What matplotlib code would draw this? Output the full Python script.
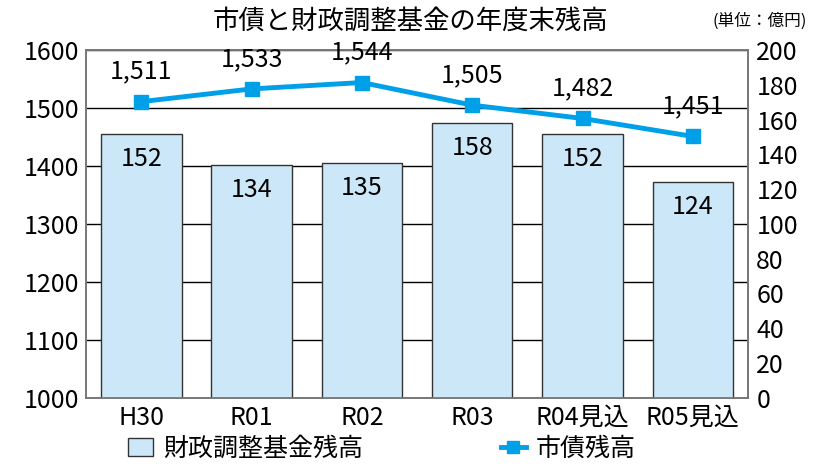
import matplotlib.pyplot as plt
import numpy as np
from matplotlib.patches import Patch
from matplotlib.lines import Line2D

plt.rcParams['font.family'] = ['Noto Sans CJK JP', 'DejaVu Sans']

categories = ["H30", "R01", "R02", "R03", "R04見込", "R05見込"]
fund = [152, 134, 135, 158, 152, 124]          # 財政調整基金残高 (right axis)
debt = [1511, 1533, 1544, 1505, 1482, 1451]    # 市債残高 (left axis)

line_color = "#00A0E9"
bar_color = "#CCE8F8"

fig = plt.figure(figsize=(8.13, 4.68), dpi=100)
ax = fig.add_axes([0.106, 0.150, 0.814, 0.743])
ax2 = ax.twinx()

x = np.arange(len(categories))

# bars on right axis
ax2.bar(x, fund, width=0.73, color=bar_color, edgecolor="#333333", linewidth=1.0, zorder=2)
for xi, v in zip(x, fund):
    ax2.annotate(str(v), (xi, v), xytext=(0, -32), textcoords="offset pixels",
                 ha="center", va="baseline", fontsize=18, zorder=3)
ax2.set_ylim(0, 200)
ax2.set_yticks(range(0, 201, 20))

# left axis + gridlines behind the bars
ax.set_ylim(1000, 1600)
ax.set_yticks(range(1000, 1601, 100))
ax.grid(axis="y", color="black", linewidth=1.0)
ax.set_axisbelow(True)

# line on an overlay sharing the left scale so it sits above the bars
ax3 = ax.twinx()
ax3.set_ylim(1000, 1600)
ax3.axis("off")
ax3.plot(x, debt, color=line_color, linewidth=3.5, marker="s", markersize=10, zorder=5)
for xi, v in zip(x, debt):
    ax3.annotate(f"{v:,}", (xi, v), xytext=(0, 23), textcoords="offset pixels",
                 ha="center", va="baseline", fontsize=18)

for a in (ax, ax2, ax3):
    a.set_xlim(-0.5, len(categories) - 0.5)

ax.set_xticks(x)
ax.set_xticklabels(categories)
ax.tick_params(axis="both", length=0, labelsize=18, pad=5)
ax2.tick_params(axis="y", length=0, labelsize=18, pad=6)
for a in (ax, ax2):
    for s in a.spines.values():
        s.set_color("#777777")
        s.set_linewidth(1.2)

fig.text(0.505, 0.955, "市債と財政調整基金の年度末残高", ha="center", va="center", fontsize=19)
fig.text(0.993, 0.955, "(単位：億円)", ha="right", va="center", fontsize=12)

handles = [Patch(facecolor=bar_color, edgecolor="#333333", label="財政調整基金残高"),
           Line2D([0], [0], color=line_color, linewidth=3.5, marker="s", markersize=8, label="市債残高")]
fig.legend(handles=handles, loc="lower center", bbox_to_anchor=(0.47, -0.035), ncol=2,
           frameon=False, fontsize=18, handlelength=1.0, handletextpad=0.4, columnspacing=5.5)

fig.savefig("out.png", dpi=100)
